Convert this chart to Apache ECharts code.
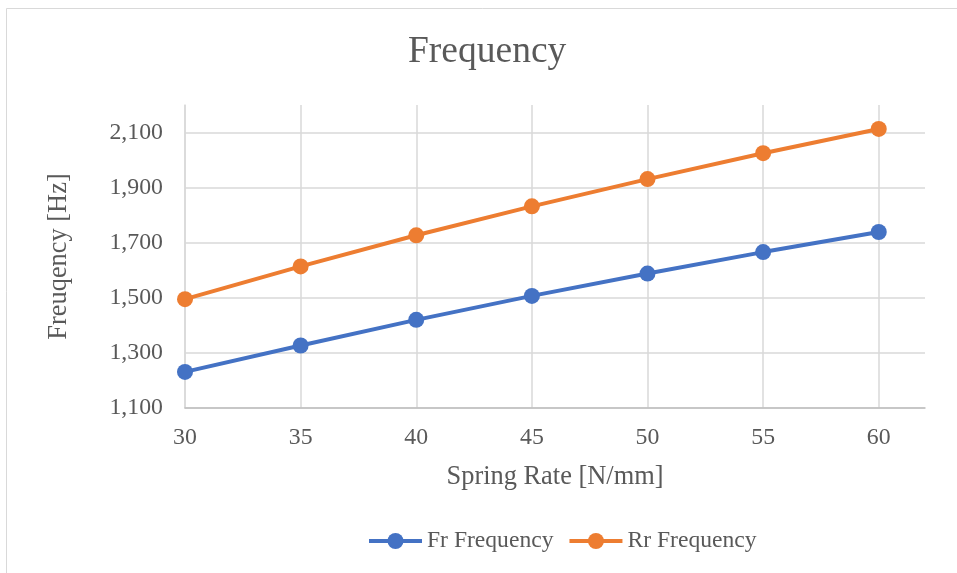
<!DOCTYPE html>
<html>
<head>
<meta charset="utf-8">
<script src="https://cdn.jsdelivr.net/npm/echarts@6/dist/echarts.min.js"></script>
<style>
  html, body { margin: 0; padding: 0; background: #ffffff; }
  #chart { width: 957px; height: 573px; }
</style>
</head>
<body>
<div id="chart"></div>
<script>
// Spring rate (N/mm) against natural frequency (Hz)
const springRates = [30, 35, 40, 45, 50, 55, 60];
const frFrequency = [1231, 1327, 1420, 1507, 1588, 1666, 1739];
const rrFrequency = [1495, 1614, 1727, 1832, 1931, 2025, 2113];
const yTicks = [1100, 1300, 1500, 1700, 1900, 2100];

const FONT = '"Liberation Serif", "Times New Roman", serif';
const TEXT = '#595959';

const chart = echarts.init(document.getElementById('chart'), null, { renderer: 'canvas' });

function pairs(xs, ys) {
  return xs.map((x, i) => [x, ys[i]]);
}

chart.setOption({
  backgroundColor: '#ffffff',
  animation: false,
  title: {
    text: 'Frequency',
    left: 408,
    top: 33,
    padding: 0,
    textStyle: { fontFamily: FONT, fontSize: 37.5, fontWeight: 'normal', color: TEXT }
  },
  graphic: [{
    type: 'rect',
    shape: { x: 6.5, y: 8.5, width: 1000, height: 1000 },
    style: { fill: 'none', stroke: '#d9d9d9', lineWidth: 1 },
    silent: true
  }],
  legend: {
    bottom: 15,
    left: 362,
    itemWidth: 53,
    itemHeight: 20,
    itemGap: 14,
    lineStyle: { width: 4 },
    textStyle: { fontFamily: FONT, fontSize: 23.6, color: TEXT },
    data: ['Fr Frequency', 'Rr Frequency']
  },
  grid: { left: 185, right: 32, top: 105, bottom: 165, containLabel: false },
  xAxis: {
    type: 'value',
    min: 30,
    max: 62,
    interval: 5,
    name: 'Spring Rate [N/mm]',
    nameLocation: 'middle',
    nameGap: 56,
    nameTextStyle: { fontFamily: FONT, fontSize: 26.4, color: TEXT },
    axisLine: { show: true, lineStyle: { color: '#bfbfbf', width: 1.5 } },
    axisTick: { show: false },
    axisLabel: {
      showMaxLabel: false,
      margin: 18,
      fontFamily: FONT, fontSize: 23.8, color: TEXT
    },
    splitLine: { show: true, showMinLine: true, showMaxLine: false, lineStyle: { color: '#d9d9d9', width: 1.5 } }
  },
  yAxis: {
    type: 'value',
    min: yTicks[0],
    max: 2200,
    interval: 200,
    name: 'Freuqency [Hz]',
    nameLocation: 'middle',
    nameGap: 113,
    nameTextStyle: { fontFamily: FONT, fontSize: 26.4, color: TEXT },
    axisLine: { show: true, lineStyle: { color: '#d9d9d9', width: 1.5 } },
    axisTick: { show: false },
    axisLabel: {
      showMaxLabel: false,
      margin: 22,
      fontFamily: FONT, fontSize: 23.8, color: TEXT,
      formatter: v => v.toLocaleString('en-US')
    },
    splitLine: { show: true, showMaxLine: false, lineStyle: { color: '#d9d9d9', width: 1.5 } }
  },
  series: [
    {
      name: 'Fr Frequency',
      type: 'line',
      data: pairs(springRates, frFrequency),
      symbol: 'circle',
      symbolSize: 16,
      itemStyle: { color: '#4472c4' },
      lineStyle: { color: '#4472c4', width: 4 },
      z: 3
    },
    {
      name: 'Rr Frequency',
      type: 'line',
      data: pairs(springRates, rrFrequency),
      symbol: 'circle',
      symbolSize: 16,
      itemStyle: { color: '#ed7d31' },
      lineStyle: { color: '#ed7d31', width: 4 },
      z: 3
    }
  ]
});
</script>
</body>
</html>
